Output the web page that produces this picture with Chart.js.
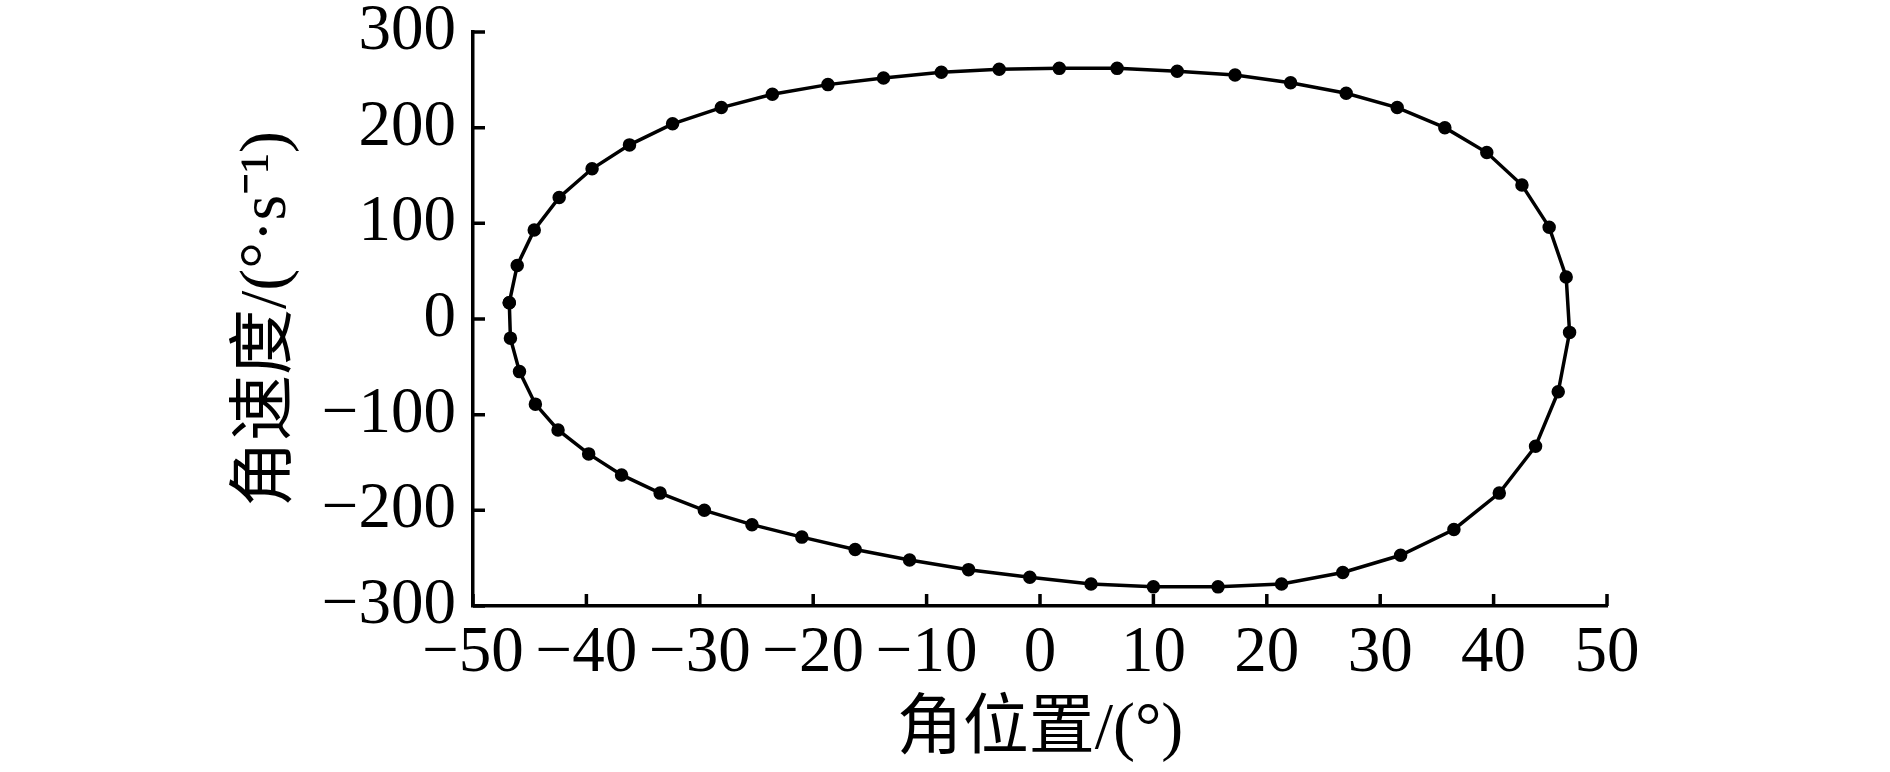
<!DOCTYPE html>
<html>
<head>
<meta charset="utf-8">
<script src="https://cdn.jsdelivr.net/npm/chart.js@4/dist/chart.umd.min.js"></script>
<style>
  html, body { margin: 0; padding: 0; background: #fff; }
</style>
</head>
<body>
<canvas id="myChart" width="1890" height="772"></canvas>
<script>
// phase loop (clockwise from the left edge)
const angle = [
  -46.8, -46.1, -44.6, -42.4, -39.5, -36.2, -32.4, -28.1, -23.6, -18.7,
  -13.8, -8.7, -3.6, 1.7, 6.8, 12.1, 17.2, 22.1, 27.0, 31.5,
  35.7, 39.4, 42.5, 44.9, 46.4, 46.7, 45.7, 43.7, 40.5, 36.5,
  31.8, 26.7, 21.3, 15.7, 10.0, 4.5, -0.9, -6.3, -11.5, -16.3,
  -21.0, -25.4, -29.6, -33.5, -36.9, -39.8, -42.5, -44.5, -45.9, -46.7
];
const velocity = [
  17, 56, 93, 127, 157, 182, 204, 221, 235, 245,
  252, 258, 261, 262, 262, 259, 255, 247, 236, 221,
  200, 174, 140, 96, 44, -14, -76, -133, -182, -220,
  -247, -265, -277, -280, -280, -277, -270, -262, -252, -241,
  -228, -215, -200, -182, -163, -141, -116, -89, -55, -20
];
const xTicks = [-50, -40, -30, -20, -10, 0, 10, 20, 30, 40, 50];
const yTicks = [-300, -200, -100, 0, 100, 200, 300];

const points = angle.map((a, i) => ({ x: a, y: velocity[i] }));
points.push(points[0]); // close the loop

const fmt = v => String(v).replace('-', '\u2212');

// tick marks pointing into the plot
const innerTicks = {
  id: 'innerTicks',
  beforeDatasetsDraw(chart) {
    const { ctx, chartArea, scales } = chart;
    ctx.save();
    ctx.strokeStyle = '#000';
    ctx.lineWidth = 3.5;
    ctx.beginPath();
    scales.x.ticks.forEach(t => {
      const px = scales.x.getPixelForValue(t.value);
      ctx.moveTo(px, chartArea.bottom);
      ctx.lineTo(px, chartArea.bottom - 12);
    });
    scales.y.ticks.forEach(t => {
      const py = scales.y.getPixelForValue(t.value);
      ctx.moveTo(chartArea.left, py);
      ctx.lineTo(chartArea.left + 12, py);
    });
    ctx.stroke();
    ctx.restore();
  }
};

const tickFont = { family: "'Liberation Serif', 'Times New Roman', serif", size: 65, lineHeight: 1 };
const titleFont = { family: "'Liberation Serif', 'Noto Sans CJK SC', serif", size: 66 };

new Chart(document.getElementById('myChart'), {
  type: 'scatter',
  data: {
    datasets: [{
      data: points,
      showLine: true,
      borderColor: '#000',
      backgroundColor: '#000',
      borderWidth: 3.5,
      pointRadius: 5,
      pointHoverRadius: 5,
      tension: 0
    }]
  },
  options: {
    responsive: false,
    animation: false,
    events: [],
    layout: {
      padding: { left: 228, right: 283, top: 32, bottom: 0 }
    },
    plugins: {
      legend: { display: false },
      tooltip: { enabled: false }
    },
    scales: {
      x: {
        type: 'linear',
        min: -50,
        max: 50,
        afterBuildTicks: s => { s.ticks = xTicks.map(v => ({ value: v })); },
        afterFit: s => { s.height = 166; s.paddingLeft = 0; s.paddingRight = 0; },
        grid: { drawOnChartArea: false, drawTicks: false },
        border: { display: true, color: '#000', width: 3.5 },
        ticks: {
          color: '#000',
          font: tickFont,
          padding: 15,
          maxRotation: 0,
          autoSkip: false,
          callback: v => fmt(v)
        },
        title: {
          display: true,
          text: '角位置/(°)',
          color: '#000',
          font: titleFont,
          padding: { top: 0, bottom: 2 }
        }
      },
      y: {
        type: 'linear',
        min: -300,
        max: 300,
        afterBuildTicks: s => { s.ticks = yTicks.map(v => ({ value: v })); },
        afterFit: s => { s.width = 245; s.paddingTop = 0; s.paddingBottom = 0; },
        grid: { drawOnChartArea: false, drawTicks: false },
        border: { display: true, color: '#000', width: 3.5 },
        ticks: {
          color: '#000',
          font: tickFont,
          padding: 17,
          autoSkip: false,
          callback: v => fmt(v)
        },
        title: {
          display: true,
          text: '角速度/(°·s⁻¹)',
          color: '#000',
          font: titleFont,
          padding: 0
        }
      }
    }
  },
  plugins: [innerTicks]
});
</script>
</body>
</html>
